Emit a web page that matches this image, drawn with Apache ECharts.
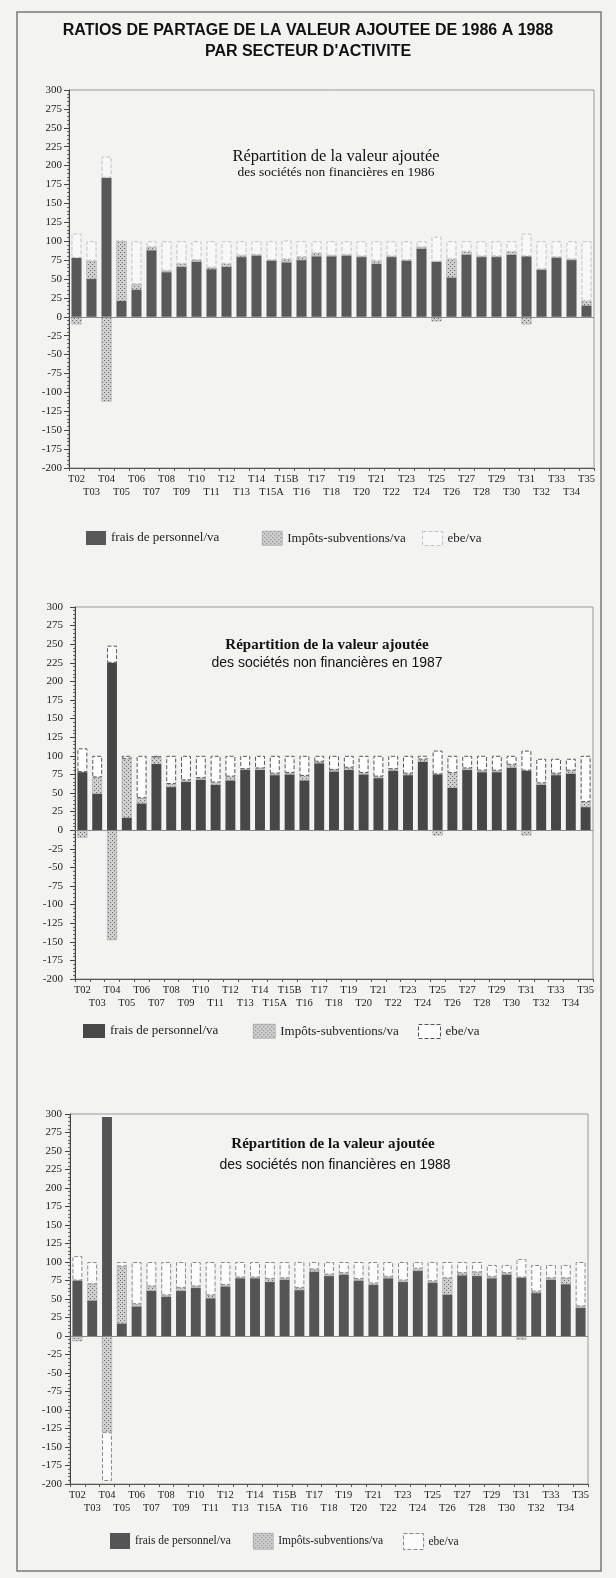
<!DOCTYPE html>
<html>
<head>
<meta charset="utf-8">
<script src="https://cdn.jsdelivr.net/npm/echarts@6/dist/echarts.min.js"></script>
<style>
html,body{margin:0;padding:0;background:#f3f3f2;}
#c{width:616px;height:1578px;}
</style>
</head>
<body>
<div id="c"></div>
<script>
// ---------- DATA ----------
const categories = ['T02','T03','T04','T05','T06','T07','T08','T09','T10','T11','T12','T13','T14','T15A','T15B','T16','T17','T18','T19','T20','T21','T22','T23','T24','T25','T26','T27','T28','T29','T30','T31','T32','T33','T34','T35'];
const seriesNames = ['frais de personnel/va','Impôts-subventions/va','ebe/va'];
const years = ['1986','1987','1988'];

const pers1986 = [78,50,184,21,36,88,59,66,73,63,66,79,81,74,72,75,80,80,81,79,70,79,74,90,73,52,82,79,79,82,80,62,78,75,15];
const imp1986  = [-10,24,-112,79,7,4,2,4,2,2,4,2,1,1,4,4,4,1,1,1,4,1,1,2,-6,24,4,1,1,4,-10,1,1,1,6];
const ebe1986  = [32,26,28,0,57,8,39,30,25,35,30,19,18,25,25,21,16,19,18,20,26,20,25,8,33,24,14,20,20,14,30,37,21,24,79];

const pers1987 = [78,49,225,17,36,89,58,65,68,61,67,81,81,74,75,67,90,79,81,75,70,80,74,92,75,57,81,78,78,84,80,61,74,76,31];
const imp1987  = [-10,22,-148,79,7,9,4,2,2,3,5,1,2,2,2,6,2,2,3,2,2,2,2,3,-7,20,2,2,2,4,-7,2,2,4,7];
const ebe1987  = [32,29,23,4,57,2,38,33,30,36,28,18,17,24,23,27,8,19,16,23,28,18,24,5,32,23,17,20,20,12,27,33,20,16,62];

const pers1988 = [75,48,296,17,40,61,53,61,65,51,67,78,78,73,76,62,87,81,83,75,69,78,73,88,72,56,82,81,78,83,79,58,76,70,38];
const imp1988  = [-7,22,-130,77,3,6,2,4,2,4,2,1,1,4,2,3,3,2,2,2,2,2,2,3,2,22,3,5,2,2,-5,2,2,8,2];
const ebe1988  = [33,30,-66,6,57,33,45,35,33,45,31,21,21,23,22,35,10,17,15,23,29,20,25,9,26,22,15,14,16,11,25,36,18,18,60];

const dataByYear = [
  [pers1986, imp1986, ebe1986],
  [pers1987, imp1987, ebe1987],
  [pers1988, imp1988, ebe1988]
];

// ---------- STYLE ----------
function makePattern(){
  const c = document.createElement('canvas');
  c.width = 4; c.height = 4;
  const ctx = c.getContext('2d');
  ctx.fillStyle = '#d0d0d0';
  ctx.fillRect(0,0,4,4);
  ctx.fillStyle = '#666666';
  ctx.fillRect(0,0,1,1);
  ctx.fillRect(2,2,1,1);
  return {image: c, repeat: 'repeat'};
}
const dots = makePattern();

const grids = [
  {left:69, top:90, width:525, height:378},
  {left:75, top:607, width:518, height:372},
  {left:70, top:1114, width:518, height:370}
];
const persColors = ['#585858','#474747','#555555'];
const ebeStyles = [
  {color:'#f8f8f8', borderColor:'#c4c4c4', borderWidth:1, borderType:'dashed'},
  {color:'#ffffff', borderColor:'#555555', borderWidth:1, borderType:'dashed'},
  {color:'#fcfcfc', borderColor:'#8a8a8a', borderWidth:1, borderType:'dashed'}
];
const yLabelMargin = [7, 12, 8];
const serif = '"Liberation Serif","DejaVu Serif",serif';
const sans = '"Liberation Sans",Arial,sans-serif';

const option = {
  backgroundColor:'#f3f3f2',
  animation:false,
  grid: grids.map(g => Object.assign({show:true, borderColor:'#9a9a9a', borderWidth:1, backgroundColor:'transparent'}, g)),
  xAxis: grids.map((g,k) => ({
    type:'category', gridIndex:k, data:categories,
    axisLine:{onZero:false, lineStyle:{color:'#555'}},
    axisTick:{show:true, interval:0, length:3, lineStyle:{color:'#555'}},
    axisLabel:{
      interval:0, margin:5, color:'#222', fontFamily:serif, fontSize:10.5, lineHeight:13,
      formatter:(v,i) => (i % 2 ? '\n' + v : v)
    }
  })),
  yAxis: grids.map((g,k) => ({
    type:'value', gridIndex:k, min:-200, max:300, interval:25,
    axisLine:{show:true, lineStyle:{color:'#444'}},
    axisTick:{show:true, length:5, lineStyle:{color:'#444'}},
    minorTick:{show:true, splitNumber:5, length:2, lineStyle:{color:'#666'}},
    splitLine:{show:false},
    axisLabel:{margin:yLabelMargin[k], color:'#222', fontFamily:serif, fontSize:11}
  })),
  series: [],
  legend: [],
  graphic: []
};

dataByYear.forEach((arrs, k) => {
  option.series.push({
    name:seriesNames[0], type:'bar', xAxisIndex:k, yAxisIndex:k, stack:'s'+k,
    barWidth:'67%', data:arrs[0], itemStyle:{color:persColors[k]},
    markLine:{silent:true, symbol:'none', label:{show:false},
      lineStyle:{color:'#8a8a8a', width:1, type:'solid'}, data:[{yAxis:0}]}
  });
  option.series.push({
    name:seriesNames[1], type:'bar', xAxisIndex:k, yAxisIndex:k, stack:'s'+k,
    barWidth:'67%', data:arrs[1], itemStyle:{color:dots, borderColor:'#9a9a9a', borderWidth:0.5}
  });
  option.series.push({
    name:seriesNames[2], type:'bar', xAxisIndex:k, yAxisIndex:k, stack:'s'+k,
    barWidth:'67%', data:arrs[2], itemStyle:ebeStyles[k]
  });
});

// legends (one component per item to match the original placement)
const legendRows = [
  {y:538, lefts:[86,262,422], size:13, iw:20, ih:14},
  {y:1031, lefts:[83,253,418], size:13, iw:22, ih:14},
  {y:1541, lefts:[110,253,403], size:11.5, iw:20, ih:16}
];
legendRows.forEach((r,k) => {
  const items = [
    {name:seriesNames[0], icon:'rect', itemStyle:{color:persColors[k]}},
    {name:seriesNames[1], icon:'rect', itemStyle:{color:dots, borderColor:'#888', borderWidth:0.5}},
    {name:seriesNames[2], icon:'rect', itemStyle:ebeStyles[k]}
  ];
  items.forEach((it,j) => {
    option.legend.push({
      data:[it], left:r.lefts[j], top:r.y - r.ih/2, itemWidth:r.iw, itemHeight:r.ih,
      itemGap:0, padding:0, selectedMode:false, icon:'rect',
      textStyle:{fontFamily:serif, fontSize:r.size, color:'#222'}
    });
  });
});

// titles
option.graphic = [
  {type:'rect', silent:true, shape:{x:17, y:12, width:584, height:1559},
   style:{fill:'none', stroke:'#7a7a7a', lineWidth:1.5}},
  {type:'text', x:308, y:31, silent:true, style:{text:'RATIOS DE PARTAGE DE LA VALEUR AJOUTEE DE 1986 A 1988',
    textAlign:'center', textVerticalAlign:'middle', font:'bold 16px ' + sans, fill:'#111'}},
  {type:'text', x:308, y:52, silent:true, style:{text:"PAR SECTEUR D'ACTIVITE",
    textAlign:'center', textVerticalAlign:'middle', font:'bold 16px ' + sans, fill:'#111'}},

  {type:'text', x:336, y:157, silent:true, style:{text:'Répartition de la valeur ajoutée',
    textAlign:'center', textVerticalAlign:'middle', font:'16.5px ' + serif, fill:'#111'}},
  {type:'text', x:336, y:172, silent:true, style:{text:'des sociétés non financières en ' + years[0],
    textAlign:'center', textVerticalAlign:'middle', font:'13.5px ' + serif, fill:'#111'}},

  {type:'text', x:327, y:645, silent:true, style:{text:'Répartition de la valeur ajoutée',
    textAlign:'center', textVerticalAlign:'middle', font:'bold 15px ' + serif, fill:'#111'}},
  {type:'text', x:327, y:663, silent:true, style:{text:'des sociétés non financières en ' + years[1],
    textAlign:'center', textVerticalAlign:'middle', font:'14px ' + sans, fill:'#111'}},

  {type:'text', x:333, y:1144, silent:true, style:{text:'Répartition de la valeur ajoutée',
    textAlign:'center', textVerticalAlign:'middle', font:'bold 15px ' + serif, fill:'#111'}},
  {type:'text', x:335, y:1165, silent:true, style:{text:'des sociétés non financières en ' + years[2],
    textAlign:'center', textVerticalAlign:'middle', font:'14px ' + sans, fill:'#111'}}
];

const chart = echarts.init(document.getElementById('c'));
chart.setOption(option);
</script>
</body>
</html>
